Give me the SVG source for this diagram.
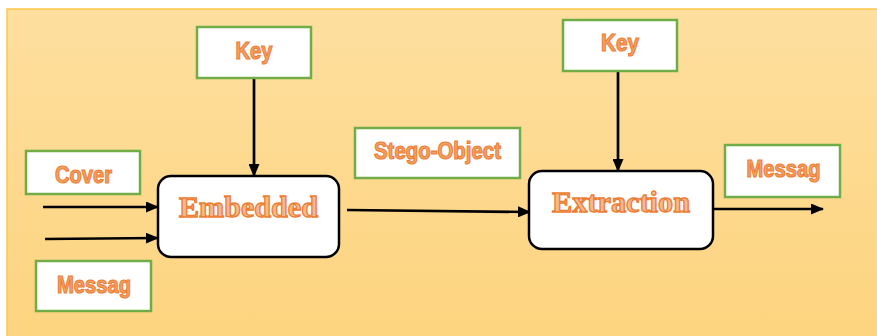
<svg xmlns="http://www.w3.org/2000/svg" width="877" height="336" viewBox="0 0 877 336">
<defs>
<linearGradient id="bg" x1="0" y1="0" x2="0" y2="1">
<stop offset="0" stop-color="#FEDF9F"/>
<stop offset="1" stop-color="#FDD47F"/>
</linearGradient>
<marker id="ah" markerWidth="13" markerHeight="11" refX="12" refY="5.5" orient="auto" markerUnits="userSpaceOnUse">
<path d="M0,0 L13,5.5 L0,11 Z" fill="#000"/>
</marker>
</defs>
<style>
.lbl{fill:#fff;stroke:#70AD47;stroke-width:2.5}
.proc{fill:#fff;stroke:#000;stroke-width:2.5}
.lt{font-family:"Liberation Sans",Arial,sans-serif;font-weight:bold;font-size:23px;fill:#F3A066;stroke:#ED7D31;stroke-width:1.1;text-anchor:middle}
.pt{font-family:"Liberation Serif","Times New Roman",serif;font-weight:bold;font-size:30px;fill:#F6B98E;stroke:#ED7D31;stroke-width:1.3;text-anchor:middle}
.c{stroke:#000;stroke-width:2.7;fill:none;marker-end:url(#ah)}
</style>
<rect x="0" y="0" width="877" height="336" fill="#fff"/>
<rect x="7" y="9" width="872" height="330" fill="url(#bg)" stroke="#FFC74A" stroke-width="1.5"/>
<g id="connectors">
<path class="c" d="M254,79 L254,176"/>
<path class="c" d="M618,71 L618,171"/>
<path class="c" d="M43,207 L158,207"/>
<path class="c" d="M45,239 L158,238"/>
<path class="c" d="M347,210 L530,212"/>
<path class="c" d="M713,209 L823,209"/>
</g>
<g id="key1"><rect class="lbl" x="197" y="27" width="114" height="51"/><text class="lt" x="254" y="59" textLength="37" lengthAdjust="spacingAndGlyphs">Key</text></g>
<g id="key2"><rect class="lbl" x="563" y="20" width="114" height="51"/><text class="lt" x="620" y="51" textLength="38" lengthAdjust="spacingAndGlyphs">Key</text></g>
<g id="cover"><rect class="lbl" x="26" y="151" width="114" height="43"/><text class="lt" x="83.5" y="183" textLength="57" lengthAdjust="spacingAndGlyphs">Cover</text></g>
<g id="messag1"><rect class="lbl" x="36" y="261" width="115" height="50"/><text class="lt" x="94" y="293" textLength="74" lengthAdjust="spacingAndGlyphs">Messag</text></g>
<g id="stego"><rect class="lbl" x="355" y="128" width="165" height="50"/><text class="lt" x="437.5" y="159" textLength="127" lengthAdjust="spacingAndGlyphs">Stego-Object</text></g>
<g id="messag2"><rect class="lbl" x="725" y="145" width="115" height="52"/><text class="lt" x="783.5" y="177" textLength="74" lengthAdjust="spacingAndGlyphs">Messag</text></g>
<g id="embedded"><rect class="proc" x="158" y="176" width="181" height="81" rx="13"/><text class="pt" x="248.5" y="217" textLength="139" lengthAdjust="spacingAndGlyphs">Embedded</text></g>
<g id="extraction"><rect class="proc" x="529" y="171" width="184" height="78" rx="13"/><text class="pt" x="621" y="212" textLength="138" lengthAdjust="spacingAndGlyphs">Extraction</text></g>
</svg>
